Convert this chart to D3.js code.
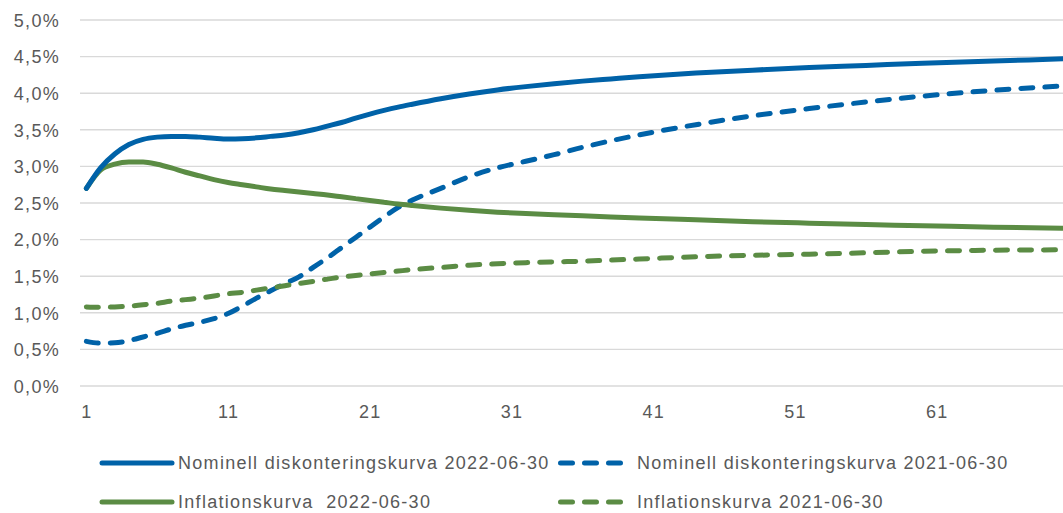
<!DOCTYPE html>
<html>
<head>
<meta charset="utf-8">
<script src="https://cdn.jsdelivr.net/npm/d3@7"></script>
<style>
  html, body { margin: 0; padding: 0; background: #fff; }
  svg { display: block; }
  text { font-family: "Liberation Sans", Arial, sans-serif; fill: #595959; letter-spacing: 1.3px; white-space: pre; }
</style>
</head>
<body>
<svg id="chart" width="1063" height="513"></svg>
<script>
// Maturity in years
const maturities = [1,2,3,4,5,6,7,8,9,10,11,12,13,14,15,16,17,18,19,20,21,22,23,24,
                    26,28,30,32,34,36,38,40,44,48,52,56,60,65,70];

// Rates in percent
const nominal2022 = [2.70,2.98,3.17,3.30,3.37,3.40,3.41,3.41,3.40,3.385,3.375,3.378,3.39,3.41,3.43,3.46,3.50,3.55,3.60,3.66,3.715,3.765,3.81,3.85,
                     3.925,3.99,4.045,4.09,4.13,4.165,4.195,4.225,4.275,4.315,4.35,4.38,4.41,4.44,4.47];
const nominal2021 = [0.61,0.585,0.59,0.62,0.67,0.72,0.78,0.83,0.87,0.92,0.99,1.09,1.20,1.30,1.40,1.49,1.62,1.75,1.89,2.03,2.17,2.31,2.44,2.54,
                     2.70,2.86,2.98,3.07,3.16,3.26,3.35,3.43,3.57,3.69,3.79,3.88,3.96,4.04,4.10];
const inflation2022 = [2.70,2.95,3.03,3.06,3.06,3.03,2.98,2.92,2.87,2.82,2.78,2.75,2.72,2.69,2.67,2.65,2.63,2.61,2.585,2.56,2.535,2.51,2.485,2.465,
                       2.43,2.40,2.375,2.355,2.34,2.325,2.31,2.295,2.27,2.245,2.225,2.205,2.19,2.17,2.155];
const inflation2021 = [1.08,1.075,1.08,1.09,1.11,1.13,1.16,1.18,1.20,1.23,1.26,1.28,1.31,1.34,1.37,1.40,1.43,1.46,1.49,1.51,1.53,1.55,1.57,1.59,
                       1.62,1.65,1.67,1.685,1.695,1.705,1.72,1.735,1.765,1.785,1.80,1.82,1.84,1.855,1.86];

const xTicks = [1, 11, 21, 31, 41, 51, 61];
const yTicks = [0, 0.5, 1, 1.5, 2, 2.5, 3, 3.5, 4, 4.5, 5];

const BLUE = "#0062a8";
const GREEN = "#5b8c44";

const series = [
  { name: "Nominell diskonteringskurva 2022-06-30", values: nominal2022, color: BLUE, dashed: false },
  { name: "Nominell diskonteringskurva 2021-06-30", values: nominal2021, color: BLUE, dashed: true },
  { name: "Inflationskurva  2022-06-30", values: inflation2022, color: GREEN, dashed: false },
  { name: "Inflationskurva 2021-06-30", values: inflation2021, color: GREEN, dashed: true }
];

const svg = d3.select("#chart");
const plot = { left: 80, right: 1063, top: 20, bottom: 386 };

const x = d3.scaleLinear().domain([0.55, 69.9]).range([plot.left, plot.right]);
const y = d3.scaleLinear().domain([0, 5]).range([plot.bottom, plot.top]);

svg.append("defs").append("clipPath").attr("id", "plotclip")
  .append("rect").attr("x", plot.left).attr("y", 0)
  .attr("width", plot.right - plot.left).attr("height", plot.bottom + 10);

// Horizontal gridlines
svg.append("g").selectAll("line").data(yTicks).join("line")
  .attr("x1", plot.left).attr("x2", plot.right)
  .attr("y1", d => y(d)).attr("y2", d => y(d))
  .attr("stroke", "#d9d9d9").attr("stroke-width", 1.4);

// Y axis labels
const fmt = d => d.toFixed(1).replace(".", ",") + "%";
const yAxis = svg.append("g").attr("transform", `translate(${plot.left - 20},0)`)
  .call(d3.axisLeft(y).tickValues(yTicks).tickFormat(fmt).tickSize(0).tickPadding(0));
yAxis.select(".domain").remove();
yAxis.selectAll("text").attr("font-size", 18).attr("font-family", null).attr("fill", "#595959")
  .attr("x", 0).attr("dy", "0.35em");

// X axis labels
const xAxis = svg.append("g").attr("transform", `translate(0,${plot.bottom})`)
  .call(d3.axisBottom(x).tickValues(xTicks).tickFormat(d3.format("d")).tickSize(0).tickPadding(0));
xAxis.select(".domain").remove();
xAxis.selectAll("text").attr("font-size", 18).attr("font-family", null).attr("fill", "#595959")
  .attr("y", 26).attr("dy", "0.35em");

// Curves
const line = d3.line()
  .x((d, i) => x(maturities[i]))
  .y(d => y(d))
  .curve(d3.curveMonotoneX);

const lines = svg.append("g").attr("clip-path", "url(#plotclip)");
// dashed first so solid curves sit on top
[1, 3, 2, 0].forEach(k => {
  const s = series[k];
  lines.append("path")
    .attr("d", line(s.values))
    .attr("fill", "none")
    .attr("stroke", s.color)
    .attr("stroke-width", 5)
    .attr("stroke-linecap", "round")
    .attr("stroke-linejoin", "round")
    .attr("stroke-dasharray", s.dashed ? "12 12" : null);
});

// Legend
const legendPos = [
  { lx: 102, tx: 178, y: 463 },
  { lx: 558, tx: 637, y: 463 },
  { lx: 102, tx: 178, y: 502 },
  { lx: 558, tx: 637, y: 502 }
];
const legend = svg.append("g");
series.forEach((s, i) => {
  const p = legendPos[i];
  legend.append("line")
    .attr("x1", s.dashed ? p.lx + 2.5 : p.lx).attr("x2", s.dashed ? p.lx + 62.5 : p.lx + 70)
    .attr("y1", p.y).attr("y2", p.y)
    .attr("stroke", s.color).attr("stroke-width", 5)
    .attr("stroke-linecap", "round")
    .attr("stroke-dasharray", s.dashed ? "12 12" : null);
  legend.append("text")
    .attr("x", p.tx).attr("y", p.y).attr("dy", "0.35em")
    .attr("font-size", 18)
    .text(s.name);
});
</script>
</body>
</html>
